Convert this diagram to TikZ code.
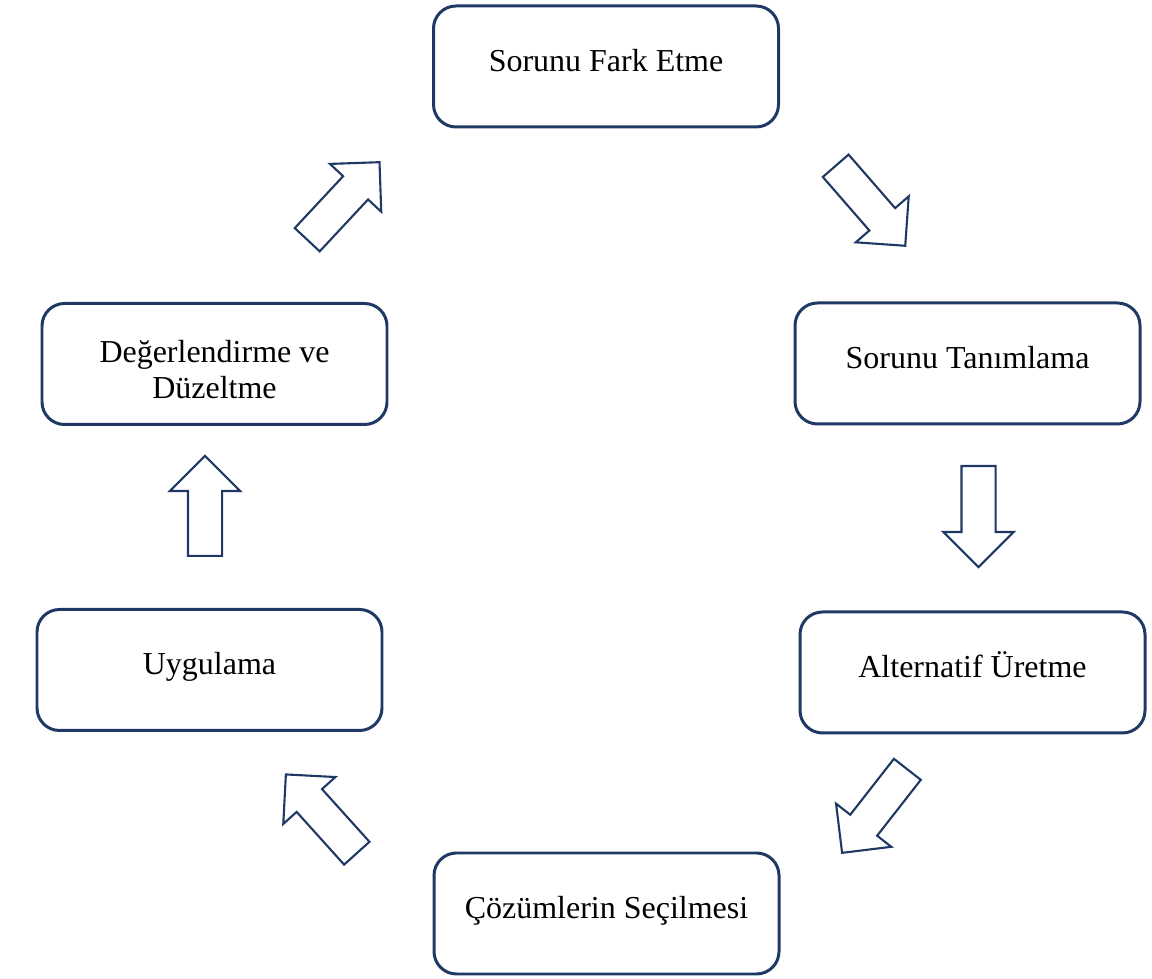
\documentclass[tikz,border=0pt]{standalone}
\usepackage{fontspec}
\setmainfont{Liberation Serif}
\usepackage{tikz}
\usepackage{xcolor}
\usetikzlibrary{shapes.arrows}

\definecolor{navy}{HTML}{1F3864}

\begin{document}
\begin{tikzpicture}
\tikzstyle{stage} = [rectangle, minimum width=6.9cm, minimum height=2.42cm, text centered, rounded corners=0.45cm, draw=navy, line width=1.7pt, font=\fontsize{18.2}{20.5}\selectfont, text height=0.45cm, text depth=0.25cm]
\tikzstyle{blockarrow} = [single arrow, draw=navy, line width=1.2pt, inner xsep=0pt, inner ysep=0.32cm, minimum width=1.36cm, single arrow head extend=0.36cm, minimum height=2.12cm, anchor=tail]

\useasboundingbox (0,0) rectangle (23.04,19.58);

\node (s1) [stage] at (12.12,18.25) {Sorunu Fark Etme};
\node (s2) [stage] at (19.35,12.31) {Sorunu Tanımlama};
\node (s3) [stage] at (19.45,6.13) {Alternatif Üretme};
\node (s4) [stage] at (12.13,1.31) {Çözümlerin Seçilmesi};
\node (s5) [stage] at (4.19,6.18) {Uygulama};
\node (s6) [stage, align=center, text height={}, text depth={}] at (4.29,12.30) {\rule{0pt}{0.68cm}Değerlendirme ve\\Düzeltme};

\node (a1) [blockarrow, rotate=47] at (6.13,14.77) {};
\node (a2) [blockarrow, rotate=-49] at (16.70,16.28) {};
\node (a3) [blockarrow, rotate=-90, minimum height=2.02cm] at (19.57,10.28) {};
\node (a4) [blockarrow, rotate=-128] at (18.16,4.21) {};
\node (a5) [blockarrow, rotate=132] at (7.15,2.50) {};
\node (a6) [blockarrow, rotate=90, minimum height=2cm] at (4.10,8.44) {};
\end{tikzpicture}
\end{document}
